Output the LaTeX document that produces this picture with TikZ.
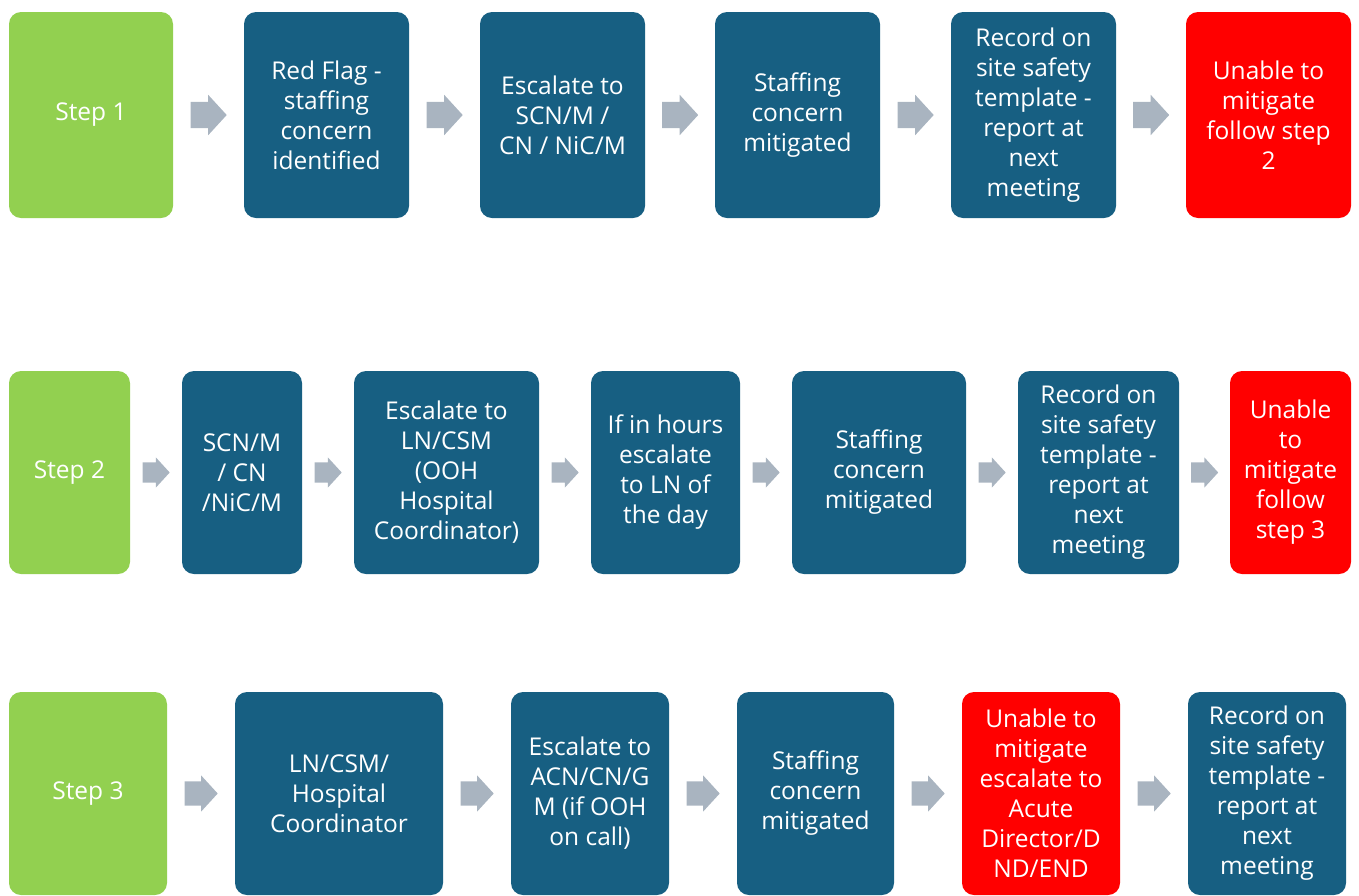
\documentclass[tikz,border=0pt]{standalone}
\usepackage{fontspec}
\setmainfont{Open Sans}
\usepackage{tikz}
\usetikzlibrary{shapes.arrows, calc}

\definecolor{stepgreen}{RGB}{146,208,80}
\definecolor{boxblue}{RGB}{23,95,130}
\definecolor{alertred}{RGB}{255,0,0}
\definecolor{flowgrey}{RGB}{169,180,192}

\begin{document}
\begin{tikzpicture}[
    x=1pt, y=-1pt,
    box/.style={rounded corners=12pt, fill=boxblue, text=white,
                align=center, inner sep=0pt,
                font=\fontsize{24.5}{30}\selectfont},
    stepbox/.style={box, fill=stepgreen},
    failbox/.style={box, fill=alertred},
    flow/.style={single arrow, fill=flowgrey, draw=none, inner xsep=0pt,
                 single arrow tip angle=95, anchor=tail},
    flowA/.style={flow, minimum height=36pt, inner ysep=13pt,
                  single arrow head extend=7pt, xshift=-18pt},
    flowB/.style={flow, minimum height=27pt, inner ysep=10pt,
                  single arrow head extend=5pt, xshift=-13.5pt},
    flowC/.style={flow, minimum height=33pt, inner ysep=12pt,
                  single arrow head extend=6pt, xshift=-16.5pt}
  ]
  \useasboundingbox (0,0) rectangle (1359,895);

  % step 1
  \node[stepbox, minimum width=164pt, minimum height=206pt] (step1) at (91,115) {Step 1};
  \node[box, minimum width=165pt, minimum height=206pt] (flag1) at (326.5,115)
    {Red Flag -\\staffing\\concern\\identified};
  \node[box, minimum width=165pt, minimum height=206pt] (esc1) at (562.5,115)
    {Escalate to\\SCN/M /\\CN / NiC/M};
  \node[box, minimum width=165pt, minimum height=206pt] (mit1) at (797.5,115)
    {Staffing\\concern\\mitigated};
  \node[box, minimum width=165pt, minimum height=206pt] (rec1) at (1033.5,115)
    {Record on\\site safety\\template -\\report at\\next\\meeting};
  \node[failbox, minimum width=165pt, minimum height=206pt] (fail1) at (1268.5,115)
    {Unable to\\mitigate\\follow step\\2};

  % step 2
  \node[stepbox, minimum width=121pt, minimum height=203pt] (step2) at (69.5,472.5) {Step 2};
  \node[box, minimum width=120pt, minimum height=203pt] (scn2) at (242,472.5)
    {SCN/M\\/ CN\\/NiC/M};
  \node[box, minimum width=185pt, minimum height=203pt] (esc2) at (446.5,472.5)
    {Escalate to\\LN/CSM\\(OOH\\Hospital\\Coordinator)};
  \node[box, minimum width=149pt, minimum height=203pt] (hours2) at (665.5,472.5)
    {If in hours\\escalate\\to LN of\\the day};
  \node[box, minimum width=174pt, minimum height=203pt] (mit2) at (879,472.5)
    {Staffing\\concern\\mitigated};
  \node[box, minimum width=161pt, minimum height=203pt] (rec2) at (1098.5,472.5)
    {Record on\\site safety\\template -\\report at\\next\\meeting};
  \node[failbox, minimum width=121pt, minimum height=203pt] (fail2) at (1290.5,472.5)
    {Unable\\to\\mitigate\\follow\\step 3};

  % step 3
  \node[stepbox, minimum width=158pt, minimum height=203pt] (step3) at (88,793.5) {Step 3};
  \node[box, minimum width=208pt, minimum height=203pt] (lncsm3) at (339,793.5)
    {LN/CSM/\\Hospital\\Coordinator};
  \node[box, minimum width=158pt, minimum height=203pt] (esc3) at (590,793.5)
    {Escalate to\\ACN/CN/G\\M (if OOH\\on call)};
  \node[box, minimum width=157pt, minimum height=203pt] (mit3) at (815.5,793.5)
    {Staffing\\concern\\mitigated};
  \node[failbox, minimum width=158pt, minimum height=203pt] (fail3) at (1041,793.5)
    {Unable to\\mitigate\\escalate to\\Acute\\Director/D\\ND/END};
  \node[box, minimum width=158pt, minimum height=203pt] (rec3) at (1267,793.5)
    {Record on\\site safety\\template -\\report at\\next\\meeting};

  % block arrows between the boxes
  \foreach \a/\b in {step1/flag1, flag1/esc1, esc1/mit1, mit1/rec1, rec1/fail1} {
    \node[flowA] (\a-\b) at ($(\a.east)!0.5!(\b.west)$) {};
  }
  \foreach \a/\b in {step2/scn2, scn2/esc2, esc2/hours2, hours2/mit2, mit2/rec2, rec2/fail2} {
    \node[flowB] (\a-\b) at ($(\a.east)!0.5!(\b.west)$) {};
  }
  \foreach \a/\b in {step3/lncsm3, lncsm3/esc3, esc3/mit3, mit3/fail3, fail3/rec3} {
    \node[flowC] (\a-\b) at ($(\a.east)!0.5!(\b.west)$) {};
  }
\end{tikzpicture}
\end{document}
